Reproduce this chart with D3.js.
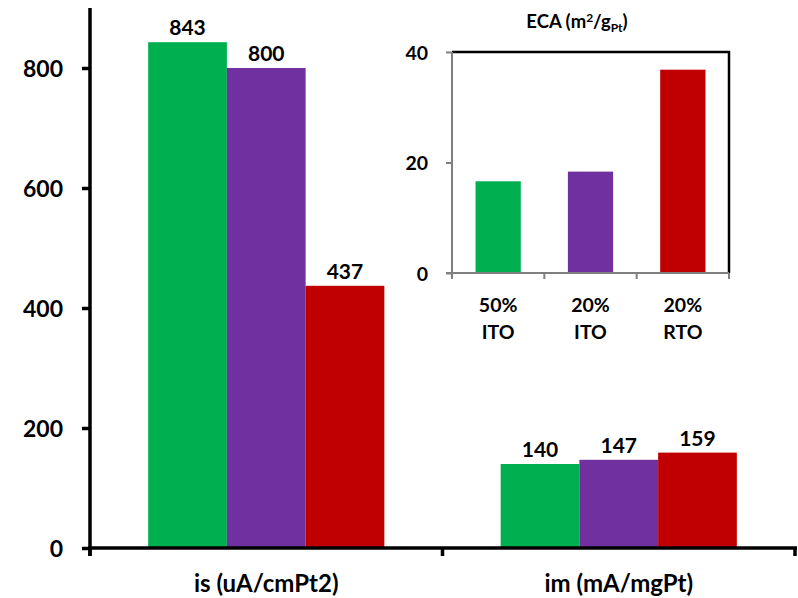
<!DOCTYPE html>
<html>
<head>
<meta charset="utf-8">
<script src="https://cdn.jsdelivr.net/npm/d3@7"></script>
<style>
  html, body { margin: 0; padding: 0; background: #fff; }
  svg { display: block; }
  text { font-family: Lato, "Open Sans", sans-serif; font-weight: bold; fill: #000; }
</style>
</head>
<body>
<svg id="chart" width="798" height="598"></svg>
<script>
// ---- data ----
const categories = ["is (uA/cmPt2)", "im (mA/mgPt)"];
const seriesNames = ["50% ITO", "20% ITO", "20% RTO"];
const seriesColors = ["#00B050", "#7030A0", "#C00000"];
const values50ITO = [843, 140];
const values20ITO = [800, 147];
const values20RTO = [437, 159];
const yTicks = [0, 200, 400, 600, 800];

const insetCategories = [["50%", "ITO"], ["20%", "ITO"], ["20%", "RTO"]];
const ecaValues = [16.6, 18.35, 36.8];
const insetTicks = [0, 20, 40];

const seriesValues = [values50ITO, values20ITO, values20RTO];

const svg = d3.select("#chart");

// ---- main chart ----
const x0 = d3.scaleBand().domain(categories).range([90, 795]).padding(0);
const groupFrac = 0.67;
const x1 = d3.scaleBand().domain(d3.range(seriesNames.length))
  .range([0, x0.bandwidth() * groupFrac]).padding(0);
const y = d3.scaleLinear().domain([0, 900]).range([548, 8]);

const groups = svg.append("g").selectAll("g").data(categories).join("g")
  .attr("transform", d => `translate(${x0(d) + x0.bandwidth() * (1 - groupFrac) / 2},0)`);

groups.each(function(cat, ci) {
  const g = d3.select(this);
  seriesValues.forEach((vals, si) => {
    g.append("rect")
      .attr("x", x1(si))
      .attr("y", y(vals[ci]))
      .attr("width", x1.bandwidth())
      .attr("height", y(0) - y(vals[ci]))
      .attr("fill", seriesColors[si]);
    g.append("text")
      .attr("x", x1(si) + x1.bandwidth() / 2)
      .attr("y", y(vals[ci]) - 7)
      .attr("text-anchor", "middle")
      .style("font-size", "21px")
      .text(vals[ci]);
  });
});

// y axis
const yAxis = svg.append("g").attr("transform", "translate(90,0)")
  .call(d3.axisLeft(y).tickValues(yTicks).tickSize(8).tickPadding(19).tickSizeOuter(0));
yAxis.select(".domain").attr("stroke", "#000").attr("stroke-width", 3.5)
  .attr("d", `M0,${y(900)}V556`);
yAxis.selectAll(".tick line").attr("stroke", "#000").attr("stroke-width", 3.5);
yAxis.selectAll(".tick text").style("font-size", "23px").attr("dy", "0.36em")
  .style("font-family", "Lato, sans-serif");

// x axis
const xAxisG = svg.append("g").attr("transform", `translate(0,${y(0)})`);
xAxisG.append("line").attr("x1", 88).attr("x2", 797).attr("y1", 0).attr("y2", 0)
  .attr("stroke", "#000").attr("stroke-width", 3.5);
const xTickPos = [x0.range()[0], ...categories.map(c => x0(c) + x0.bandwidth())];
xAxisG.selectAll("line.tk").data(xTickPos).join("line").attr("class", "tk")
  .attr("x1", d => d).attr("x2", d => d).attr("y1", 0).attr("y2", 8)
  .attr("stroke", "#000").attr("stroke-width", 3.5);
xAxisG.selectAll("text.cat").data(categories).join("text").attr("class", "cat")
  .attr("x", d => x0(d) + x0.bandwidth() / 2)
  .attr("y", 44)
  .attr("text-anchor", "middle")
  .style("font-size", "24px")
  .text(d => d);

// ---- inset ----
const ix = d3.scaleBand().domain(d3.range(insetCategories.length)).range([452, 729]).padding(0);
const iy = d3.scaleLinear().domain([0, 40]).range([273, 52]);
const inset = svg.append("g");
const barFrac = 0.49;

inset.selectAll("rect").data(ecaValues).join("rect")
  .attr("x", (d, i) => ix(i) + ix.bandwidth() * (1 - barFrac) / 2)
  .attr("y", d => iy(d))
  .attr("width", ix.bandwidth() * barFrac)
  .attr("height", d => iy(0) - iy(d))
  .attr("fill", (d, i) => seriesColors[i]);

// frame top/right
inset.append("path")
  .attr("d", `M452,${iy(40)}H729V${iy(0)}`)
  .attr("fill", "none").attr("stroke", "#000").attr("stroke-width", 2.5);

const iyAxis = inset.append("g").attr("transform", "translate(452,0)")
  .call(d3.axisLeft(iy).tickValues(insetTicks).tickSize(6).tickPadding(18).tickSizeOuter(0));
iyAxis.select(".domain").attr("stroke", "#7f7f7f").attr("stroke-width", 2)
  .attr("d", `M0,${iy(40)}V${iy(0) + 5}`);
iyAxis.selectAll(".tick line").attr("stroke", "#7f7f7f").attr("stroke-width", 2);
iyAxis.selectAll(".tick text").style("font-size", "19.5px").attr("dy", "0.36em")
  .style("font-family", "Lato, sans-serif");

inset.append("line").attr("x1", 446).attr("x2", 729).attr("y1", iy(0)).attr("y2", iy(0))
  .attr("stroke", "#7f7f7f").attr("stroke-width", 2);
const ixTicks = [ix.range()[0], ...d3.range(insetCategories.length).map(i => ix(i) + ix.bandwidth())];
inset.selectAll("line.itk").data(ixTicks).join("line").attr("class", "itk")
  .attr("x1", d => d).attr("x2", d => d).attr("y1", iy(0)).attr("y2", iy(0) + 6)
  .attr("stroke", "#7f7f7f").attr("stroke-width", 2);

const icat = inset.selectAll("text.icat").data(insetCategories).join("text").attr("class", "icat")
  .attr("text-anchor", "middle")
  .style("font-size", "19.5px");
icat.each(function(d, i) {
  const t = d3.select(this);
  d.forEach((line, li) => {
    t.append("tspan")
      .attr("x", ix(i) + ix.bandwidth() / 2)
      .attr("y", 312 + li * 27)
      .text(line);
  });
});

// inset title
const title = inset.append("text").attr("x", 577).attr("y", 28)
  .attr("text-anchor", "middle").style("font-size", "18.5px");
title.append("tspan").text("ECA (m");
title.append("tspan").attr("dy", -6).style("font-size", "12px").text("2");
title.append("tspan").attr("dy", 6).text("/g");
title.append("tspan").attr("dy", 4).style("font-size", "12px").text("Pt");
title.append("tspan").attr("dy", -4).text(")");
</script>
</body>
</html>
